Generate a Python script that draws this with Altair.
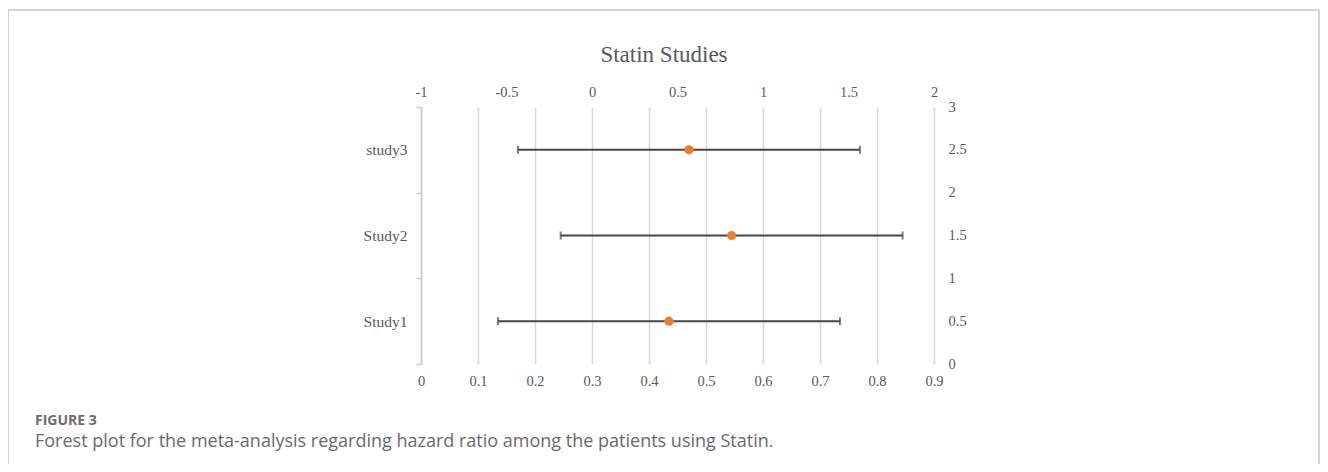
import altair as alt
import pandas as pd

# ---- data ----
studies = ["Study1", "Study2", "study3"]
row_pos = [0.5, 1.5, 2.5]          # secondary (right) axis value of each study row
hazard_ratio = [0.435, 0.545, 0.47]
ci_low = [0.135, 0.245, 0.17]
ci_high = [0.735, 0.845, 0.77]

bottom_ticks = [0, 0.1, 0.2, 0.3, 0.4, 0.5, 0.6, 0.7, 0.8, 0.9]
top_ticks = [-1, -0.5, 0, 0.5, 1, 1.5, 2]
right_ticks = [0, 0.5, 1, 1.5, 2, 2.5, 3]
left_ticks = [0, 0.5, 1, 1.5, 2, 2.5, 3]

chart_title = "Statin Studies"
fig_label = "FIGURE 3"
caption = "Forest plot for the meta-analysis regarding hazard ratio among the patients using Statin."

# ---- styles ----
SERIF = "Liberation Serif"
LABEL_COLOR = "#595959"
GRID = "#d9d9d9"
BAR = "#474747"
DOT = "#ED7D31"
LFS = 14.5

df = pd.DataFrame({"study": studies, "pos": row_pos, "hr": hazard_ratio,
                   "lo": ci_low, "hi": ci_high})
axis_df = pd.DataFrame({"t": top_ticks, "r": right_ticks})

x_scale = alt.Scale(domain=[0, 0.9], nice=False, zero=False)
y_scale = alt.Scale(domain=[0, 3], nice=False, zero=False)

label_expr = " : ".join(
    f"datum.value == {p} ? '{s}'" for p, s in zip(row_pos, studies)
) + " : ''"
plain_num = "datum.value + ''"

bottom_axis = alt.Axis(values=bottom_ticks, orient="bottom", grid=True, gridColor=GRID,
                       gridWidth=1.5, domain=False, ticks=False, labelPadding=10,
                       labelFont=SERIF, labelFontSize=LFS, labelColor=LABEL_COLOR,
                       title=None, labelExpr=plain_num, labelFlush=False)
left_axis = alt.Axis(values=left_ticks, orient="left", grid=False, domain=True,
                     domainColor="#c8c8c8", domainWidth=1.5, tickColor="#c8c8c8",
                     tickWidth=1.5, tickSize=5,
                     tickOpacity={"condition": {"test": "datum.value % 1 != 0", "value": 0},
                                  "value": 1},
                     labelExpr=label_expr, labelPadding=9, labelFont=SERIF,
                     labelFontSize=15.5, labelColor=LABEL_COLOR, title=None,
                     labelFlush=False)
top_axis = alt.Axis(values=top_ticks, orient="top", grid=False, domain=False, ticks=False,
                    labelPadding=8, labelFont=SERIF, labelFontSize=LFS,
                    labelColor=LABEL_COLOR, title=None, labelExpr=plain_num,
                    labelFlush=False)
right_axis = alt.Axis(values=right_ticks, orient="right", grid=False, domain=False,
                      ticks=False, labelPadding=14, labelFont=SERIF, labelFontSize=LFS,
                      labelColor=LABEL_COLOR, title=None, labelExpr=plain_num,
                      labelFlush=False)

base = alt.Chart(df)

bars = base.mark_rule(color=BAR, strokeWidth=2).encode(
    x=alt.X("lo:Q", scale=x_scale, axis=bottom_axis),
    x2="hi:Q",
    y=alt.Y("pos:Q", scale=y_scale, axis=left_axis),
)
caps = base.transform_fold(["lo", "hi"], as_=["end", "val"]).mark_tick(
    orient="vertical", color=BAR, size=8, thickness=2
).encode(
    x=alt.X("val:Q", scale=x_scale),
    y=alt.Y("pos:Q", scale=y_scale),
)
dots = base.mark_circle(size=85, color=DOT, opacity=1).encode(
    x=alt.X("hr:Q", scale=x_scale),
    y=alt.Y("pos:Q", scale=y_scale),
)
main = alt.layer(bars, caps, dots)

secondary = alt.Chart(axis_df).mark_point(opacity=0).encode(
    x=alt.X("t:Q", scale=alt.Scale(domain=[-1, 2], nice=False, zero=False), axis=top_axis),
    y=alt.Y("r:Q", scale=alt.Scale(domain=[0, 3], nice=False, zero=False), axis=right_axis),
)

one = alt.Chart(pd.DataFrame({"a": [0]}))
frame_color = "#d4d4d4"
frame_top = one.mark_rule(color=frame_color, strokeWidth=2).encode(
    x=alt.value(-413), x2=alt.value(898.5), y=alt.value(-97))
frame_left = one.mark_rule(color=frame_color, strokeWidth=1).encode(
    x=alt.value(-412.5), y=alt.value(-97), y2=alt.value(357))
frame_right = one.mark_rule(color=frame_color, strokeWidth=2).encode(
    x=alt.value(898), y=alt.value(-97), y2=alt.value(357))
title_text = one.mark_text(align="center", baseline="middle", font=SERIF,
                           fontSize=23, color=LABEL_COLOR).encode(
    x=alt.value(243), y=alt.value(-52), text=alt.value(chart_title))
fig_text = one.mark_text(align="left", baseline="middle", font="Open Sans",
                         fontSize=14, fontWeight="bold", color="#6b6b6b").encode(
    x=alt.value(-386), y=alt.value(314), text=alt.value(fig_label))
cap_text = one.mark_text(align="left", baseline="middle", font="Open Sans",
                         fontSize=18, color="#6a6a6a").encode(
    x=alt.value(-386), y=alt.value(335), text=alt.value(caption))

chart = alt.layer(main, secondary, frame_top, frame_left, frame_right,
                  title_text, fig_text, cap_text
).resolve_scale(x="independent", y="independent").properties(
    width=513, height=257,
    autosize=alt.AutoSizeParams(type="none"),
    padding={"left": 413, "top": 99, "right": 386, "bottom": 100},
).configure_view(stroke=None)

chart.save("out.html", embed_options={"renderer": "svg", "actions": False})
